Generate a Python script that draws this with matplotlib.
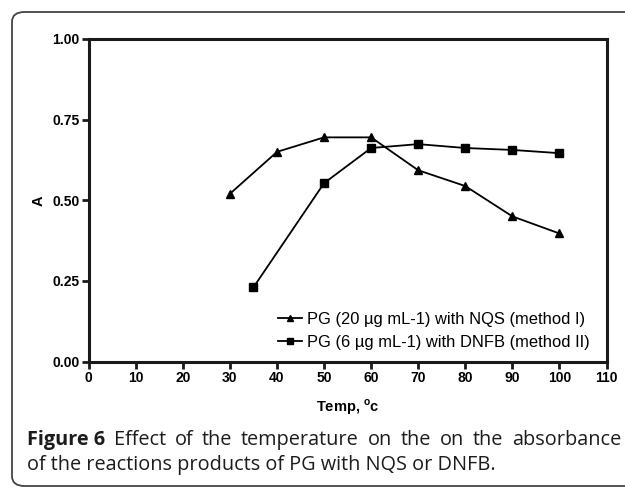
import matplotlib
matplotlib.use("Agg")
import matplotlib.pyplot as plt
from matplotlib.patches import FancyBboxPatch

# data
temp_nqs = [30, 40, 50, 60, 70, 80, 90, 100]
abs_nqs = [0.52, 0.65, 0.695, 0.695, 0.593, 0.544, 0.45, 0.397]
temp_dnfb = [35, 50, 60, 70, 80, 90, 100]
abs_dnfb = [0.23, 0.553, 0.662, 0.674, 0.662, 0.656, 0.646]

label_nqs = "PG (20 µg mL-1) with NQS (method I)"
label_dnfb = "PG (6 µg mL-1) with DNFB (method II)"
x_ticks = list(range(0, 111, 10))
y_ticks = [0.00, 0.25, 0.50, 0.75, 1.00]

W, H = 625, 488
fig = plt.figure(figsize=(W / 100, H / 100), dpi=100)
plt.rcParams["font.family"] = ["Liberation Sans", "DejaVu Sans"]

# outer rounded frame (runs off the right edge like the source)
frame = FancyBboxPatch((12 / W, 2 / H), 700 / W, (H - 12 - 2) / H,
                       boxstyle="round,pad=0,rounding_size=0.02",
                       transform=fig.transFigure, fill=False,
                       edgecolor="#444444", linewidth=1.3)
fig.patches.append(frame)

ax = fig.add_axes([88.7 / W, 1 - 361.5 / H, (606.5 - 88.7) / W, (361.5 - 39) / H])
ax.plot(temp_nqs, abs_nqs, color="black", lw=1.3, marker="^", ms=6,
        label=label_nqs)
ax.plot(temp_dnfb, abs_dnfb, color="black", lw=1.3, marker="s", ms=5.5,
        label=label_dnfb)

ax.set_xlim(0, 110)
ax.set_ylim(0, 1.0)
ax.set_xticks(x_ticks)
ax.set_yticks(y_ticks)
ax.set_yticklabels([f"{v:.2f}" for v in y_ticks])
for s in ax.spines.values():
    s.set_linewidth(2.2)
    s.set_color("#1a1a1a")
ax.tick_params(direction="out", length=5, width=2, color="#1a1a1a",
               labelsize=10, pad=1.5)
for lab in ax.get_xticklabels() + ax.get_yticklabels():
    lab.set_fontweight("bold")

ax.set_xlabel("Temp, $^{\\mathregular{o}}$c", fontsize=10.5, fontweight="bold",
              labelpad=9)
ax.set_ylabel("A", fontsize=10.5, fontweight="bold", labelpad=5)

leg = ax.legend(loc="lower right", frameon=False, fontsize=11.9,
                handlelength=1.45, handletextpad=0.3, markerscale=0.7,
                labelspacing=0.5, borderaxespad=0.3,
                bbox_to_anchor=(0.99, 0.0))

# caption: "Figure 6" in bold, first line justified to the right edge
cap_font = ["Open Sans", "DejaVu Sans"]
cap_size = 14.3
cap_color = "#1c1c1c"
x_left, x_right = 27, 621
line1 = ["Figure 6", "Effect", "of", "the", "temperature", "on", "the", "on",
         "the", "absorbance"]
renderer = fig.canvas.get_renderer()
words = []
for i, w in enumerate(line1):
    t = fig.text(0, 1 - 445 / H, w, fontsize=cap_size, color=cap_color,
                 family=cap_font, va="baseline",
                 fontweight="bold" if i == 0 else "normal")
    words.append((t, t.get_window_extent(renderer).width))
gap = (x_right - x_left - sum(wd for _, wd in words)) / (len(words) - 1)
x = x_left
for t, wd in words:
    t.set_x(x / W)
    x += wd + gap
fig.text(x_left / W, 1 - 470 / H, "of the reactions products of PG with NQS or DNFB.",
         fontsize=cap_size, color=cap_color, family=cap_font, va="baseline")

fig.savefig("out.png", dpi=100)
